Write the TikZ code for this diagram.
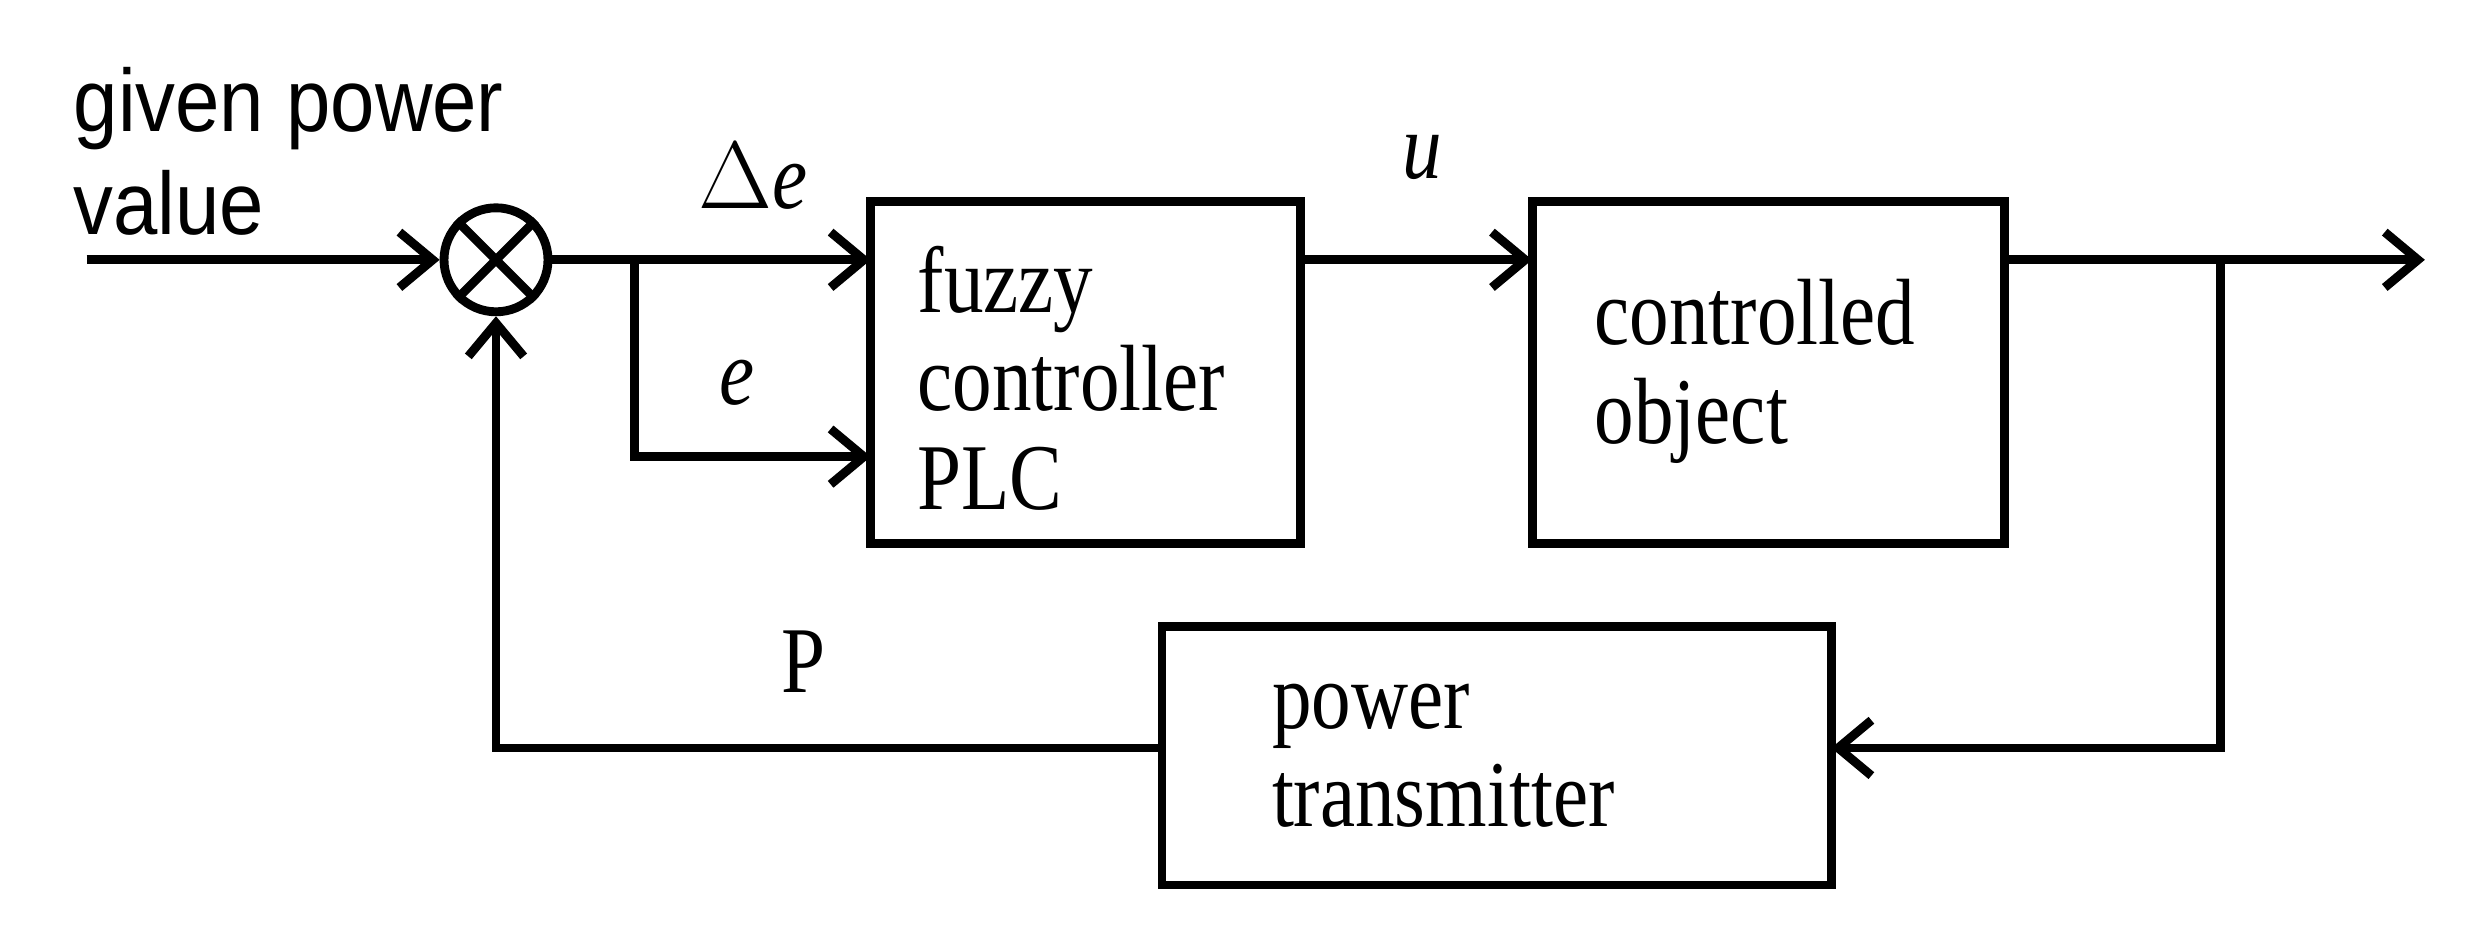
\documentclass[tikz,border=0pt]{standalone}
\usepackage{fontspec}
\setmainfont{Liberation Serif}[FakeStretch=0.84]
\newfontfamily\labelfont{Liberation Sans}[FakeStretch=0.9]
\usetikzlibrary{positioning,arrows.meta}

\begin{document}
\begin{tikzpicture}[x=0.01cm,y=-0.01cm,line width=1.6pt,
  font=\fontsize{17}{17.8}\selectfont,
  txt/.style={align=left,anchor=west,inner sep=0},
  arr/.style={-{Straight Barb[length=6pt,width=10pt]}}]
 \useasboundingbox (0,0) rectangle (1568,600);
 % blocks
 \draw (553,128) rectangle (826,345);
 \draw (973,128) rectangle (1273,345);
 \draw (738,398) rectangle (1163,562);
 \coordinate (fcW) at (553,165);
 \coordinate (fcW2) at (553,290);
 \coordinate (fcE) at (826,165);
 \coordinate (coW) at (973,165);
 \coordinate (coE) at (1273,165);
 \coordinate (ptE) at (1163,475);
 \coordinate (ptW) at (738,475);
 \node [txt] (fctext) at (580,240) {fuzzy\\controller\\PLC};
 \node [txt] (cotext) at (1010,236) {controlled\\object};
 \node [txt] (pttext) at (805,480) {power\\transmitter};
 % summing junction
 \node [draw,circle,minimum size=0.66cm,inner sep=0] (sum) at (315,165) {};
 \draw (sum.north west) -- (sum.south east) (sum.north east) -- (sum.south west);
 % inputs and signals
 \coordinate (in) at (55,165);
 \coordinate (out) at (1540,165);
 \coordinate (br1) at (403,165);
 \coordinate (br1d) at (403,290);
 \coordinate (br2) at (1410,165);
 \coordinate (br2d) at (1410,475);
 \coordinate (fb) at (315,475);
 \node [txt,anchor=north west,font=\labelfont\fontsize{16}{18.5}\selectfont] (given) at (44,40) {given power\\value};
 \draw [arr] (in) -- (sum);
 \draw [arr] (sum) -- (fcW);
 \draw [arr] (br1) -- (br1d) -- (fcW2);
 \draw [arr] (fcE) -- (coW);
 \draw [arr] (coE) -- (out);
 \draw [arr] (br2) -- (br2d) -- (ptE);
 \draw [arr] (ptW) -- (fb) -- (sum);
 \node (de) at (478,112) {$\Delta$\textit{e}};
 \node (u) at (903,100) {\textit{u}};
 \node (e) at (468,243) {\textit{e}};
 \node (p) at (510,420) {P};
\end{tikzpicture}
\end{document}
